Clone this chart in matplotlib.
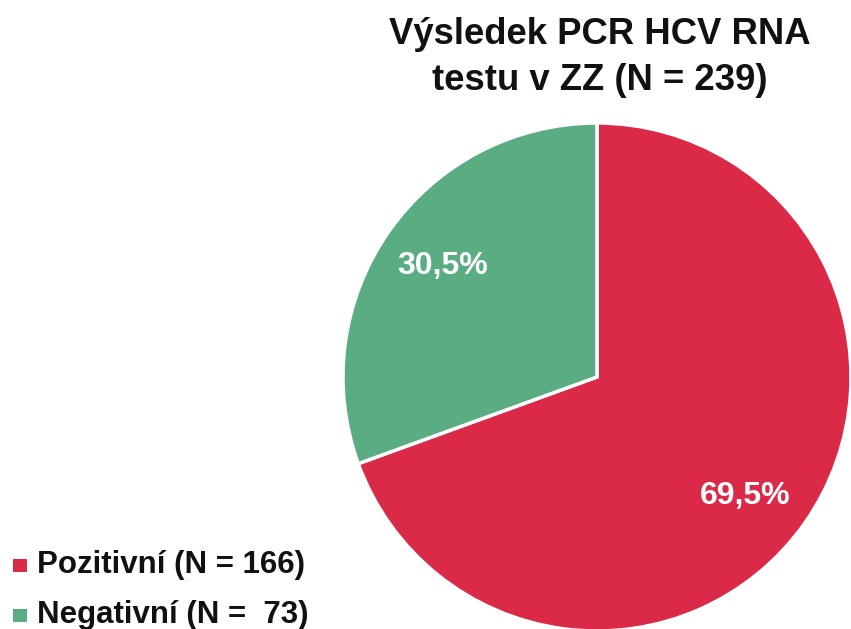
import matplotlib
matplotlib.use("Agg")
import matplotlib.pyplot as plt
from matplotlib.patches import Rectangle

plt.rcParams['font.family'] = ['Liberation Sans', 'DejaVu Sans']

categories = ["Pozitivní", "Negativní"]
counts = [166, 73]
percent_labels = ["69,5%", "30,5%"]
legend_labels = ["Pozitivní (N = 166)", "Negativní (N =  73)"]
colors = ["#DA2A47", "#5AAD83"]
title_lines = ["Výsledek PCR HCV RNA", "testu v ZZ (N = 239)"]

W, H = 851, 629
fig = plt.figure(figsize=(W / 100, H / 100), dpi=100)

cx, cy, r = 597, 377, 254
ax = fig.add_axes([(cx - r) / W, (H - cy - r) / H, 2 * r / W, 2 * r / H])
wedges, texts = ax.pie(counts, colors=colors, startangle=90, counterclock=False,
                       radius=1, labels=percent_labels, labeldistance=0.7,
                       wedgeprops=dict(edgecolor="white", linewidth=2.5),
                       textprops=dict(color="white", fontsize=23, fontweight="bold"))
ax.set_xlim(-1, 1)
ax.set_ylim(-1, 1)
ax.set_aspect("equal")
ax.axis("off")

# label placement to match reference
label_pos = [(0.583, -0.50), (-0.606, 0.406)]
for t, p in zip(texts, label_pos):
    t.set_position(p)
    t.set_ha("center")
    t.set_va("baseline")

for i, line in enumerate(title_lines):
    fig.text(600 / W, 1 - (44 + 46 * i) / H, line, ha="center", va="baseline",
             fontsize=26.3, fontweight="bold", color="#111111")

for i, lab in enumerate(legend_labels):
    base = 573 + i * 50
    fig.patches.append(Rectangle((13 / W, 1 - (base - 1) / H), 14 / W, 13 / H,
                                 transform=fig.transFigure, facecolor=colors[i],
                                 edgecolor="none"))
    fig.text(37 / W, 1 - base / H, lab, ha="left", va="baseline", fontsize=22.5,
             fontweight="bold", color="#111111")

fig.savefig("out.png", dpi=100)
